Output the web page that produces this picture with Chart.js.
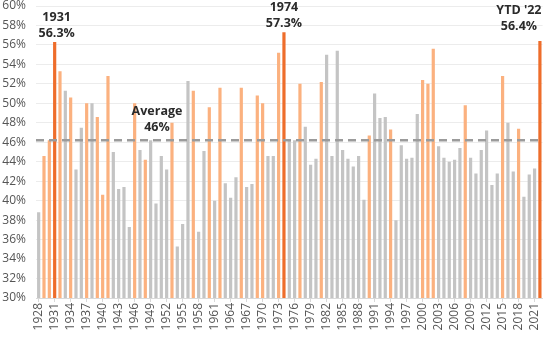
<!DOCTYPE html>
<html>
<head>
<meta charset="utf-8">
<script src="https://cdn.jsdelivr.net/npm/chart.js@4"></script>
<style>
  html, body { margin: 0; padding: 0; background: #fff; }
  #wrap { width: 550px; height: 338px; }
</style>
</head>
<body>
<div id="wrap"><canvas id="myChart"></canvas></div>
<script>
// years 1928 - 2022
var years = [];
for (var y = 1928; y <= 2022; y++) years.push(String(y));

var shares = [
    38.8, 44.6, 46.2, 56.3, 53.3, 51.3, 50.6, 43.2, 47.5, 50.0,
    50.0, 48.6, 40.6, 52.8, 45.0, 41.2, 41.4, 37.3, 50.0, 45.2,
    44.2, 46.2, 39.7, 44.6, 43.2, 48.0, 35.3, 37.6, 52.3, 51.3,
    36.8, 45.1, 49.6, 40.0, 51.6, 41.8, 40.3, 42.4, 51.6, 41.4,
    41.7, 50.8, 50.0, 44.6, 44.6, 55.2, 57.3, 46.2, 46.2, 52.0,
    47.6, 43.7, 44.3, 52.2, 55.0, 44.6, 55.4, 45.2, 44.3, 43.5,
    44.6, 40.1, 46.7, 51.0, 48.5, 48.6, 47.3, 38.0, 45.7, 44.3,
    44.4, 48.9, 52.4, 52.0, 55.6, 45.6, 44.4, 44.0, 44.2, 45.4,
    49.8, 44.4, 42.8, 45.2, 47.2, 41.6, 42.8, 52.8, 48.0, 43.0,
    47.4, 40.4, 42.7, 43.3, 56.4
];

// 0 = gray, 1 = light orange, 2 = highlighted
var barType = [
    0, 1, 1, 2, 1, 0, 1, 0, 0, 1,
    0, 1, 1, 1, 0, 0, 0, 0, 1, 0,
    1, 0, 0, 0, 0, 1, 0, 0, 0, 1,
    0, 0, 1, 0, 1, 0, 0, 0, 1, 0,
    0, 1, 1, 0, 0, 1, 2, 0, 0, 1,
    0, 0, 0, 1, 0, 0, 0, 0, 0, 0,
    0, 0, 1, 0, 0, 0, 1, 0, 0, 0,
    0, 0, 1, 1, 1, 0, 0, 0, 0, 0,
    1, 0, 0, 0, 0, 0, 0, 1, 0, 0,
    1, 0, 0, 0, 2
];

var average = 46.2;
var callouts = [
    { year: '1931', lines: ['1931', '56.3%'], dx: 2, dy: -2 },
    { year: '1974', lines: ['1974', '57.3%'], dx: 0, dy: -3 },
    { year: '2022', lines: ["YTD '22", '56.4%'], dx: -21, dy: -8 }
];
var avgLabel = { year: '1950', lines: ['Average', '46%'], dx: 1, dy: -7 };

var palette = ['#c4c4c4', '#fbb17f', '#ee6d2b'];
var font = '"Open Sans", "Noto Sans", sans-serif';

var overlay = {
    id: 'overlay',
    afterDatasetsDraw: function(chart) {
        var ctx = chart.ctx;
        var xs = chart.scales.x, ys = chart.scales.y;
        var area = chart.chartArea;
        var ay = ys.getPixelForValue(average);

        ctx.save();
        ctx.strokeStyle = '#9b9b9b';
        ctx.lineWidth = 2.5;
        ctx.setLineDash([8, 5]);
        ctx.beginPath();
        ctx.moveTo(area.left, ay);
        ctx.lineTo(area.right, ay);
        ctx.stroke();
        ctx.setLineDash([]);

        ctx.fillStyle = '#2b2b2b';
        ctx.font = 'bold 12.5px ' + font;
        ctx.textAlign = 'center';
        ctx.textBaseline = 'bottom';
        function put(c, baseVal) {
            var i = years.indexOf(c.year);
            var x = xs.getPixelForValue(i) + c.dx;
            var yy = ys.getPixelForValue(baseVal) + c.dy;
            ctx.fillText(c.lines[1], x, yy);
            ctx.fillText(c.lines[0], x, yy - 16);
        }
        callouts.forEach(function(c) {
            put(c, shares[years.indexOf(c.year)]);
        });
        put(avgLabel, average);
        ctx.restore();
    }
};

function createChart() {
    var ctx = document.getElementById('myChart').getContext('2d');
    var myChart = new Chart(ctx, {
        type: 'bar',
        data: {
            labels: years,
            datasets: [{
                data: shares,
                backgroundColor: barType.map(function(t) { return palette[t]; }),
                borderWidth: 0,
                categoryPercentage: 1,
                barPercentage: 0.6
            }]
        },
        options: {
            responsive: true,
            maintainAspectRatio: false,
            animation: false,
            layout: { padding: { top: 0, right: 1, left: 0, bottom: 0 } },
            plugins: { legend: { display: false }, tooltip: { enabled: false } },
            scales: {
                x: {
                    offset: true,
                    grid: { display: true, drawOnChartArea: false, offset: false, color: '#d9d9d9', tickLength: 4 },
                    border: { color: '#d9d9d9' },
                    afterBuildTicks: function(scale) {
                        scale.ticks = scale.ticks.filter(function(t, i) { return i % 3 === 0; });
                    },
                    afterFit: function(scale) { scale.height = 40; },
                    ticks: {
                        autoSkip: false,
                        minRotation: 90,
                        maxRotation: 90,
                        padding: 1,
                        color: '#555',
                        font: { family: font, size: 12 }
                    }
                },
                y: {
                    min: 30,
                    max: 60,
                    afterFit: function(scale) {
                        scale.width = 36;
                        scale.paddingTop = 6;
                        scale.paddingBottom = 0;
                    },
                    grid: { color: '#ececec', drawTicks: false },
                    border: { display: false },
                    ticks: {
                        stepSize: 2,
                        padding: 10,
                        color: '#555',
                        font: { family: font, size: 12 },
                        callback: function(v) { return v + '%'; }
                    }
                }
            }
        },
        plugins: [overlay]
    });
}

document.addEventListener('DOMContentLoaded', function() {
    createChart();
});
</script>
</body>
</html>
